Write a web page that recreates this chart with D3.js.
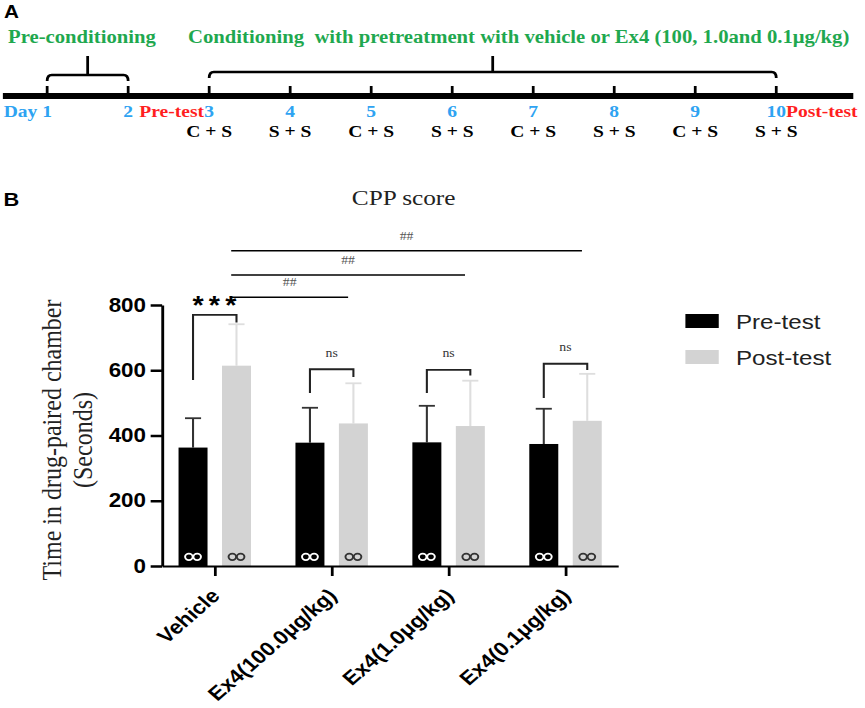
<!DOCTYPE html>
<html>
<head>
<meta charset="utf-8">
<script src="https://cdn.jsdelivr.net/npm/d3@7"></script>
<style>
body { margin: 0; background: #fff; }
svg { display: block; }
.serif { font-family: "Liberation Serif", "Times New Roman", serif; }
.sans { font-family: "Liberation Sans", Arial, Helvetica, sans-serif; }
</style>
</head>
<body>
<div id="chart"></div>
<script>
// ---- data ----
var groups = ["Vehicle", "Ex4(100.0μg/kg)", "Ex4(1.0μg/kg)", "Ex4(0.1μg/kg)"];
var seriesNames = ["Pre-test", "Post-test"];
var preMean = [363, 378, 379, 374];
var preSD = [90, 107, 112, 108];
var postMean = [614, 437, 429, 445];
var postSD = [127, 123, 139, 144];
var yTicks = [0, 200, 400, 600, 800];
var markerLevel = 28;

// significance brackets (pre vs post in each group)
var bracketLeft = [570, 530, 530, 515];
var bracketTop = [770, 603, 601, 620];
var bracketRight = [746, 579, 584, 601];
var bracketLabels = ["***", "ns", "ns", "ns"];

// vehicle post vs each Ex4 post
var compGroups = ["Ex4(100.0μg/kg)", "Ex4(1.0μg/kg)", "Ex4(0.1μg/kg)"];
var compLevels = [824, 892, 966];
var compLabels = ["##", "##", "##"];

// timeline (panel A)
var days = [1, 2, 3, 4, 5, 6, 7, 8, 9, 10];
var sessionDays = [3, 4, 5, 6, 7, 8, 9, 10];
var sessions = ["C + S", "S + S", "C + S", "S + S", "C + S", "S + S", "C + S", "S + S"];

// ---- setup ----
var W = 865, H = 708, sx = 1.15;   // the original figure is stretched horizontally
var svg = d3.select("#chart").append("svg")
    .attr("width", W)
    .attr("height", H);
var g = svg.append("g").attr("transform", "scale(" + sx + ",1)");

var green = "#1fa84f", blue = "#2ea3f2", red = "#ff1f1f";

// ================= panel A =================
g.append("text").attr("class", "sans")
    .attr("x", 3.5).attr("y", 18.5)
    .style("font-size", "18px").style("font-weight", "bold")
    .text("A");

var day = d3.scaleLinear().domain([1, 10]).range([41, 675]);
var lineY = 96;

g.append("line")
    .attr("x1", 2.5).attr("x2", 742)
    .attr("y1", lineY).attr("y2", lineY)
    .attr("stroke", "#000").attr("stroke-width", 6);

g.selectAll(".dtick").data(days).enter().append("line")
    .attr("class", "dtick")
    .attr("x1", function (d) { return day(d); })
    .attr("x2", function (d) { return day(d); })
    .attr("y1", lineY).attr("y2", 86)
    .attr("stroke", "#000").attr("stroke-width", 2.4);

g.selectAll(".dlab").data(days).enter().append("text")
    .attr("class", "dlab serif")
    .attr("x", function (d) { return day(d); })
    .attr("y", 117)
    .attr("text-anchor", "middle")
    .style("font-size", "17px").style("font-weight", "bold")
    .attr("fill", blue)
    .text(function (d) { return d; });

g.append("text").attr("class", "serif")
    .attr("x", day(1) - 8.5).attr("y", 117)
    .attr("text-anchor", "end")
    .style("font-size", "17px").style("font-weight", "bold")
    .attr("fill", blue)
    .text("Day");

g.append("text").attr("class", "serif")
    .attr("x", day(3) - 4.5).attr("y", 117)
    .attr("text-anchor", "end")
    .style("font-size", "17px").style("font-weight", "bold")
    .attr("fill", red)
    .text("Pre-test");

g.append("text").attr("class", "serif")
    .attr("x", day(10) + 8.5).attr("y", 117)
    .style("font-size", "17px").style("font-weight", "bold")
    .attr("fill", red)
    .text("Post-test");

g.selectAll(".sess").data(sessions).enter().append("text")
    .attr("class", "sess serif")
    .attr("x", function (d, i) { return day(sessionDays[i]); })
    .attr("y", 137)
    .attr("text-anchor", "middle")
    .style("font-size", "17px").style("font-weight", "bold")
    .attr("fill", "#000")
    .text(function (d) { return d; });

// braces
function brace(x1, x2, y, top) {
    var mid = (x1 + x2) / 2;
    g.append("path")
        .attr("d", "M" + x1 + "," + (y + 6) + " Q" + x1 + "," + y + " " + (x1 + 4) + "," + y +
            " L" + (x2 - 4) + "," + y + " Q" + x2 + "," + y + " " + x2 + "," + (y + 6) +
            " M" + mid + "," + y + " L" + mid + "," + top)
        .attr("fill", "none").attr("stroke", "#000").attr("stroke-width", 2.4);
}
brace(day(1), day(2), 75, 56);
brace(day(3), day(10), 72, 56);

g.append("text").attr("class", "serif")
    .attr("x", 7).attr("y", 43)
    .style("font-size", "18px").style("font-weight", "bold")
    .attr("fill", green)
    .text("Pre-conditioning");

g.append("text").attr("class", "serif")
    .attr("x", 163.5).attr("y", 43)
    .style("font-size", "18px").style("font-weight", "bold")
    .style("white-space", "pre")
    .attr("fill", green)
    .text("Conditioning  with pretreatment with vehicle or Ex4 (100, 1.0and 0.1μg/kg)");

// ================= panel B =================
g.append("text").attr("class", "sans")
    .attr("x", 3).attr("y", 206)
    .style("font-size", "19px").style("font-weight", "bold")
    .text("B");

var x0 = d3.scalePoint().domain(groups).range([141, 537.5]).padding(0.45);
var x1 = d3.scaleBand().domain(seriesNames).range([-31.5, 31.5]).paddingInner(0.333);
var y = d3.scaleLinear().domain([0, 800]).range([566, 305]);
var bw = x1.bandwidth();

var rows = [];
groups.forEach(function (grp, i) {
    rows.push({ group: grp, series: "Pre-test", mean: preMean[i], sd: preSD[i] });
    rows.push({ group: grp, series: "Post-test", mean: postMean[i], sd: postSD[i] });
});
function cx(grp, s) { return x0(grp) + x1(s) + bw / 2; }

var fillOf = { "Pre-test": "#000", "Post-test": "#d3d3d3" };
var errOf = { "Pre-test": "#333", "Post-test": "#dedede" };
var dotOf = { "Pre-test": "#fff", "Post-test": "#333" };

// error bars (upward only)
var err = g.selectAll(".err").data(rows).enter().append("g").attr("class", "err");
err.append("line")
    .attr("x1", function (d) { return cx(d.group, d.series); })
    .attr("x2", function (d) { return cx(d.group, d.series); })
    .attr("y1", function (d) { return y(d.mean); })
    .attr("y2", function (d) { return y(d.mean + d.sd); })
    .attr("stroke", function (d) { return errOf[d.series]; })
    .attr("stroke-width", 1.8);
err.append("line")
    .attr("x1", function (d) { return cx(d.group, d.series) - 7; })
    .attr("x2", function (d) { return cx(d.group, d.series) + 7; })
    .attr("y1", function (d) { return y(d.mean + d.sd); })
    .attr("y2", function (d) { return y(d.mean + d.sd); })
    .attr("stroke", function (d) { return errOf[d.series]; })
    .attr("stroke-width", 1.8);

g.selectAll(".bar").data(rows).enter().append("rect")
    .attr("class", "bar")
    .attr("x", function (d) { return x0(d.group) + x1(d.series); })
    .attr("y", function (d) { return y(d.mean); })
    .attr("width", bw)
    .attr("height", function (d) { return y(0) - y(d.mean); })
    .attr("fill", function (d) { return fillOf[d.series]; });

// little "oo" markers at the bar foot
[-3.6, 3.6].forEach(function (off) {
    g.selectAll(".dot" + (off < 0 ? "l" : "r")).data(rows).enter().append("circle")
        .attr("cx", function (d) { return cx(d.group, d.series) + off; })
        .attr("cy", y(markerLevel))
        .attr("r", 3.3)
        .attr("fill", "none")
        .attr("stroke", function (d) { return dotOf[d.series]; })
        .attr("stroke-width", 1.7);
});

// axes
var yAxis = d3.axisLeft(y).tickValues(yTicks).tickSize(10).tickSizeOuter(0).tickPadding(4);
var ya = g.append("g").attr("class", "y_axis")
    .attr("transform", "translate(141,0)")
    .call(yAxis);
ya.select(".domain").attr("stroke", "#000").attr("stroke-width", 2.5);
ya.selectAll(".tick line").attr("stroke", "#000").attr("stroke-width", 2.5);
ya.selectAll(".tick text")
    .attr("class", "sans")
    .style("font-size", "19.5px").style("font-weight", "bold")
    .attr("fill", "#000");

var xAxis = d3.axisBottom(x0).tickSize(10).tickSizeOuter(0);
var xa = g.append("g").attr("class", "x_axis")
    .attr("transform", "translate(0,566)")
    .call(xAxis);
xa.select(".domain").attr("stroke", "#000").attr("stroke-width", 2.2);
xa.selectAll(".tick line").attr("stroke", "#000").attr("stroke-width", 2.4);
xa.selectAll(".tick text")
    .attr("class", "sans")
    .attr("x", 0).attr("y", 0).attr("dy", 0)
    .attr("text-anchor", "end")
    .attr("transform", "translate(5,31) rotate(-45)")
    .style("font-size", "19.5px").style("font-weight", "bold")
    .attr("fill", "#000");

// brackets
groups.forEach(function (grp, i) {
    var xl = cx(grp, "Pre-test"), xr = cx(grp, "Post-test");
    g.append("path")
        .attr("d", "M" + xl + "," + y(bracketLeft[i]) + " V" + y(bracketTop[i]) +
            " H" + xr + " V" + y(bracketRight[i]))
        .attr("fill", "none").attr("stroke", "#222").attr("stroke-width", 1.8);
    var big = bracketLabels[i].indexOf("*") >= 0;
    g.append("text")
        .attr("class", big ? "sans" : "serif")
        .attr("x", x0(grp) + (big ? 2 : 0))
        .attr("y", y(bracketTop[i]) - (big ? 1 : 12.5))
        .attr("text-anchor", "middle")
        .style("font-size", big ? "25px" : "12px")
        .style("font-weight", big ? "bold" : "normal")
        .style("letter-spacing", big ? "4.5px" : "0px")
        .attr("fill", big ? "#000" : "#333")
        .text(bracketLabels[i]);
});

// vehicle-post vs Ex4-post comparisons
compGroups.forEach(function (grp, i) {
    var xs = x0("Vehicle") + x1("Post-test") + 8;
    var xe = x0(grp) + x1("Post-test") + 8;
    g.append("line")
        .attr("x1", xs).attr("x2", xe)
        .attr("y1", y(compLevels[i])).attr("y2", y(compLevels[i]))
        .attr("stroke", "#000").attr("stroke-width", 1.5);
    g.append("text").attr("class", "serif")
        .attr("x", (xs + xe) / 2)
        .attr("y", y(compLevels[i]) - 11)
        .attr("text-anchor", "middle")
        .style("font-size", "12px")
        .attr("fill", "#555")
        .text(compLabels[i]);
});

// title
g.append("text").attr("class", "serif")
    .attr("x", 351).attr("y", 205)
    .attr("text-anchor", "middle")
    .style("font-size", "22px")
    .attr("fill", "#222")
    .text("CPP score");

// y label
var ylab = g.append("text").attr("class", "serif")
    .attr("transform", "translate(53,440) rotate(-90)")
    .attr("text-anchor", "middle")
    .style("font-size", "24px")
    .attr("fill", "#222");
ylab.append("tspan").attr("x", 0).attr("y", 0).text("Time in drug-paired chamber");
ylab.append("tspan").attr("x", 0).attr("y", 27).text("(Seconds)");

// legend
var leg = g.selectAll(".leg").data(seriesNames).enter().append("g")
    .attr("class", "leg")
    .attr("transform", function (d, i) { return "translate(596," + (314 + i * 36) + ")"; });
leg.append("rect")
    .attr("width", 29).attr("height", 14)
    .attr("fill", function (d) { return fillOf[d]; });
leg.append("text").attr("class", "sans")
    .attr("x", 44).attr("y", 14.5)
    .style("font-size", "21px")
    .attr("fill", "#222")
    .text(function (d) { return d; });
</script>
</body>
</html>
